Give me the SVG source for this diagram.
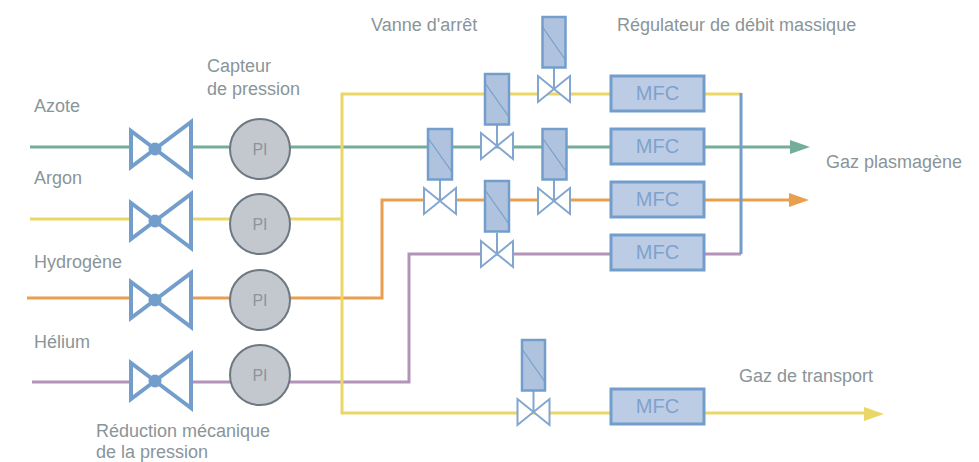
<svg xmlns="http://www.w3.org/2000/svg" width="979" height="462" viewBox="0 0 979 462">
<defs>
<style>
text{font-family:"Liberation Sans",Arial,sans-serif;font-size:18px;fill:#8a9599}
.w{fill:none;stroke-width:3}
.g{stroke:#74ae9a}.y{stroke:#ebd767}.o{stroke:#e9a04e}.p{stroke:#b294b8}
.rv{fill:#fff;stroke:#739ecb;stroke-width:4;stroke-linejoin:miter}
.dot{fill:#739ecb}
.pi{fill:#c3c8cf;stroke:#6d7880;stroke-width:2}
.pt{fill:#8c959b;font-size:16px;text-anchor:middle}
.vb{fill:#fff;stroke:#82a6d0;stroke-width:2}
.act{fill:#b0c3de;stroke:#739ecb;stroke-width:2.5}
.dia{fill:none;stroke:#739ecb;stroke-width:1.2}
.stem{stroke:#82a6d0;stroke-width:2;fill:none}
.mfc{fill:#bccce4;stroke:#739ecb;stroke-width:3}
.mt{fill:#7fa2cd;font-size:20px;text-anchor:middle}
</style>
<g id="rv"><path class="rv" d="M-24-18V18L36-27V27Z"/><circle class="dot" r="6.5"/></g>
<g id="sv"><path class="vb" d="M-16-13V13L16-13V13Z"/></g>
</defs>
<g id="connectors">
<path class="w g" d="M30 147H790"/>
<path class="w y" d="M30 219H342"/>
<path class="w o" d="M27 298H382V200H790"/>
<path class="w p" d="M32 382H409V254H741"/>
<path class="w y" d="M741 94H342V413H866"/>
<path d="M741 93V254" fill="none" stroke="#739ecb" stroke-width="3"/>
<path d="M810 147L790 140V154Z" fill="#74ae9a"/>
<path d="M809 200L789 193V207Z" fill="#e9a04e"/>
<path d="M884 414L864 407V421Z" fill="#ebd767"/>
</g>
<g id="reg-azote"><use href="#rv" x="155" y="149"/></g>
<g id="reg-argon"><use href="#rv" x="155" y="221"/></g>
<g id="reg-hydrogene"><use href="#rv" x="155" y="300"/></g>
<g id="reg-helium"><use href="#rv" x="155" y="381"/></g>
<g id="pi-1"><circle class="pi" cx="260" cy="149" r="30"/><text class="pt" x="260" y="155">PI</text></g>
<g id="pi-2"><circle class="pi" cx="260" cy="224" r="30"/><text class="pt" x="260" y="230">PI</text></g>
<g id="pi-3"><circle class="pi" cx="260" cy="300" r="30"/><text class="pt" x="260" y="306">PI</text></g>
<g id="pi-4"><circle class="pi" cx="260" cy="375" r="30"/><text class="pt" x="260" y="381">PI</text></g>
<g id="sv-1"><use href="#sv" x="554" y="89"/><path class="stem" d="M554 68V89"/><rect class="act" x="542.500" y="17" width="23" height="50.500"/><path class="dia" d="M542.500 27L565.500 60"/></g>
<g id="sv-2"><use href="#sv" x="497" y="146"/><path class="stem" d="M497 125V146"/><rect class="act" x="485" y="74" width="24" height="50.500"/><path class="dia" d="M485 83L509 117"/></g>
<g id="sv-3"><use href="#sv" x="440" y="201"/><path class="stem" d="M440 180V201"/><rect class="act" x="428" y="129" width="24" height="50.500"/><path class="dia" d="M428 138L452 172"/></g>
<g id="sv-4"><use href="#sv" x="554" y="201"/><path class="stem" d="M554 180V201"/><rect class="act" x="542.500" y="129" width="24" height="50.500"/><path class="dia" d="M542.500 138L566.500 172"/></g>
<g id="sv-5"><use href="#sv" x="497" y="254"/><path class="stem" d="M497 233V254"/><rect class="act" x="485" y="181" width="24" height="50.500"/><path class="dia" d="M485 190L509 224"/></g>
<g id="sv-6"><use href="#sv" x="533.500" y="412"/><path class="stem" d="M533.500 391V412"/><rect class="act" x="522" y="340" width="23" height="50.500"/><path class="dia" d="M522 349L545 382"/></g>
<g id="mfc-1"><rect class="mfc" x="611" y="76" width="93" height="35"/><text class="mt" x="657.500" y="100">MFC</text></g>
<g id="mfc-2"><rect class="mfc" x="611" y="129" width="93" height="35"/><text class="mt" x="657.500" y="153">MFC</text></g>
<g id="mfc-3"><rect class="mfc" x="611" y="182" width="93" height="35"/><text class="mt" x="657.500" y="206">MFC</text></g>
<g id="mfc-4"><rect class="mfc" x="611" y="235" width="93" height="35"/><text class="mt" x="657.500" y="259">MFC</text></g>
<g id="mfc-5"><rect class="mfc" x="611" y="389" width="93" height="35"/><text class="mt" x="657.500" y="413">MFC</text></g>
<g id="labels">
<text x="34" y="111.500">Azote</text>
<text x="34" y="183.500">Argon</text>
<text x="34" y="267.500">Hydrogène</text>
<text x="34" y="347.500">Hélium</text>
<text x="207" y="71.500">Capteur</text>
<text x="207" y="94.500">de pression</text>
<text x="371" y="30.500">Vanne d'arrêt</text>
<text x="617" y="30.500">Régulateur de débit massique</text>
<text x="826" y="167.500">Gaz plasmagène</text>
<text x="739" y="381.500">Gaz de transport</text>
<text x="96" y="436.500">Réduction mécanique</text>
<text x="96" y="458">de la pression</text>
</g>
</svg>
